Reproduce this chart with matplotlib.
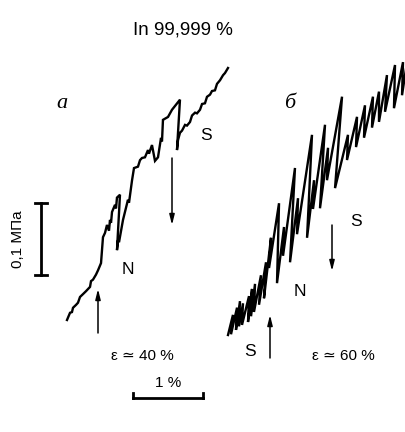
import matplotlib.pyplot as plt
import numpy as np

# strain increments (%) and stress increments (MPa)
strain_a = [0, 0.043, 0.071, 0.086, 0.129, 0.157, 0.186, 0.229, 0.271, 0.329,
            0.343, 0.371, 0.414, 0.443, 0.486, 0.514, 0.543, 0.571, 0.600, 0.614,
            0.629, 0.643, 0.686, 0.700, 0.714, 0.757, 0.714, 0.729, 0.743, 0.800,
            0.871, 0.886, 0.929, 0.957, 1.014, 1.043, 1.071, 1.114, 1.157, 1.171,
            1.214, 1.257, 1.300, 1.343, 1.357, 1.371, 1.443, 1.500, 1.614, 1.571,
            1.586, 1.614, 1.643, 1.686, 1.714, 1.757, 1.786, 1.829, 1.857, 1.900,
            1.929, 1.971, 2.000, 2.043, 2.071, 2.114, 2.143, 2.186, 2.229, 2.257,
            2.300]
stress_a = [0, 0.010, 0.011, 0.017, 0.021, 0.024, 0.032, 0.036, 0.040, 0.046,
            0.054, 0.056, 0.063, 0.069, 0.079, 0.115, 0.121, 0.132, 0.124, 0.139,
            0.135, 0.150, 0.160, 0.155, 0.170, 0.174, 0.097, 0.111, 0.108, 0.139,
            0.167, 0.163, 0.194, 0.211, 0.213, 0.222, 0.225, 0.226, 0.236, 0.231,
            0.243, 0.221, 0.226, 0.253, 0.248, 0.278, 0.282, 0.292, 0.306, 0.236,
            0.250, 0.260, 0.263, 0.271, 0.270, 0.275, 0.284, 0.288, 0.287, 0.292,
            0.300, 0.301, 0.310, 0.313, 0.318, 0.319, 0.328, 0.333, 0.340, 0.343,
            0.350]

strain_b = [0, 0.071, 0.043, 0.129, 0.114, 0.171, 0.157, 0.214, 0.200, 0.300,
            0.286, 0.343, 0.329, 0.386, 0.371, 0.471, 0.443, 0.543, 0.514, 0.614,
            0.586, 0.729, 0.700, 0.800, 0.786, 0.957, 0.886, 1.000, 0.986, 1.200,
            1.129, 1.229, 1.214, 1.386, 1.314, 1.429, 1.414, 1.629, 1.529, 1.714,
            1.700, 1.843, 1.829, 1.957, 1.943, 2.071, 2.057, 2.157, 2.157, 2.271,
            2.243, 2.386, 2.371, 2.500, 2.486, 2.557]
stress_b = [0, 0.028, 0.001, 0.038, 0.007, 0.047, 0.012, 0.044, 0.014, 0.054,
            0.018, 0.064, 0.026, 0.071, 0.032, 0.083, 0.042, 0.101, 0.051, 0.135,
            0.093, 0.183, 0.072, 0.150, 0.110, 0.232, 0.101, 0.190, 0.140, 0.278,
            0.135, 0.215, 0.175, 0.292, 0.176, 0.260, 0.215, 0.331, 0.204, 0.278,
            0.243, 0.303, 0.261, 0.319, 0.274, 0.331, 0.288, 0.338, 0.296, 0.361,
            0.310, 0.375, 0.315, 0.379, 0.333, 0.379]

SX, SY = 70.0, 720.0   # px per 1 % strain, px per 1 MPa
W, H = 406, 432


def X(px):
    return px / SX


def Y(py):
    return (H - py) / SY


fig = plt.figure(figsize=(W / 100, H / 100), dpi=100)
ax = fig.add_axes([0, 0, 1, 1])
ax.set_xlim(0, W / SX)
ax.set_ylim(0, H / SY)
ax.axis('off')

sans = ['Liberation Sans', 'DejaVu Sans']
serif = ['Liberation Serif', 'DejaVu Serif']

# curves, each shifted to its place on the sheet
ax.plot(X(67) + np.array(strain_a), Y(320) + np.array(stress_a),
        color='black', lw=1.7, solid_joinstyle='miter')
ax.plot(X(228) + np.array(strain_b), Y(335) + np.array(stress_b),
        color='black', lw=1.7, solid_joinstyle='miter')

ax.text(X(183), Y(30), 'In 99,999 %', family=sans, fontsize=13.5,
        ha='center', va='center')
ax.text(X(62), Y(103), 'a', family=serif, style='italic', fontsize=16,
        ha='center', va='center')
ax.text(X(290), Y(103), 'б', family=serif, style='italic', fontsize=16,
        ha='center', va='center')

for s, x, y in [('S', 206, 136), ('N', 128, 270), ('S', 356, 222),
                ('N', 300, 291), ('S', 250, 351)]:
    ax.text(X(x), Y(y), s, family=sans, fontsize=12.5, ha='center', va='center')


def arrow(x, y0, y1):
    ax.annotate('', xy=(X(x), Y(y1)), xytext=(X(x), Y(y0)),
                arrowprops=dict(arrowstyle='-|>,head_length=0.6,head_width=0.15',
                                color='black', lw=1.1, shrinkA=0, shrinkB=0))


arrow(98, 333, 289)
arrow(172, 158, 225)
arrow(270, 358, 315)
arrow(332, 225, 271)

ax.text(X(142), Y(356), 'ε ≃ 40 %', family=sans, fontsize=11,
        ha='center', va='center')
ax.text(X(343), Y(356), 'ε ≃ 60 %', family=sans, fontsize=11,
        ha='center', va='center')

# stress scale bar 0,1 MPa
ax.plot([X(41), X(41)], [Y(203), Y(275)], color='black', lw=2)
ax.plot([X(35), X(47)], [Y(203), Y(203)], color='black', lw=2)
ax.plot([X(35), X(47)], [Y(275), Y(275)], color='black', lw=2)
ax.text(X(18), Y(239), '0,1 МПа', family=sans, fontsize=11, rotation=90,
        ha='center', va='center')

# strain scale bar 1 %
ax.plot([X(133), X(203)], [Y(398), Y(398)], color='black', lw=2)
ax.plot([X(133), X(133)], [Y(398), Y(393)], color='black', lw=2)
ax.plot([X(203), X(203)], [Y(398), Y(393)], color='black', lw=2)
ax.text(X(168), Y(383), '1 %', family=sans, fontsize=11,
        ha='center', va='center')

fig.savefig('out.png', dpi=100)
